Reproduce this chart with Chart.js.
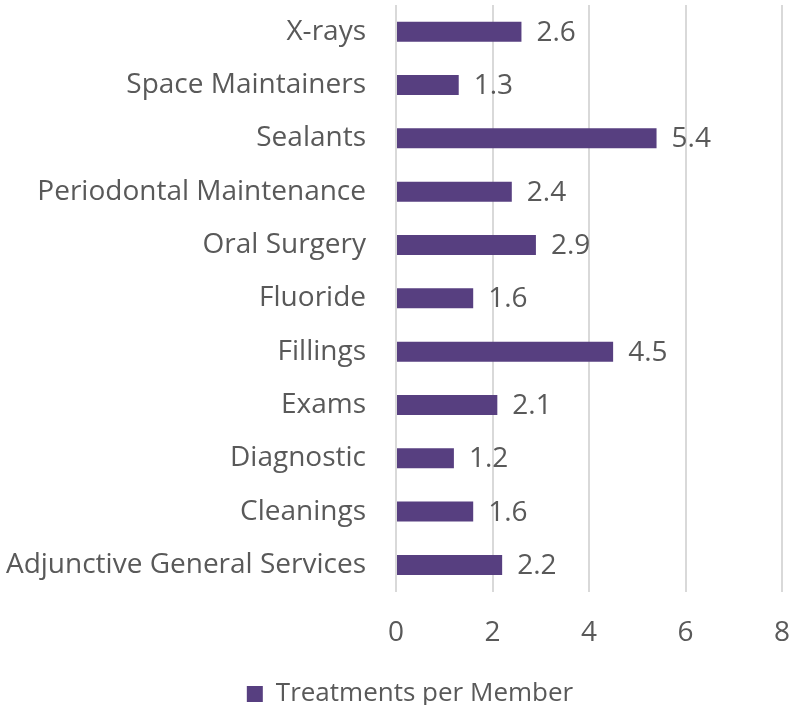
<!DOCTYPE html>
<html>
<head>
<meta charset="utf-8">
<script src="https://cdn.jsdelivr.net/npm/chart.js@4"></script>
<style>
  html, body { margin: 0; padding: 0; background: #fff; }
  #wrap { width: 792px; height: 705px; }
</style>
</head>
<body>
<div id="wrap"><canvas id="treatChart"></canvas></div>
<script>
const categories = ['X-rays', 'Space Maintainers', 'Sealants', 'Periodontal Maintenance', 'Oral Surgery',
    'Fluoride', 'Fillings', 'Exams', 'Diagnostic', 'Cleanings', 'Adjunctive General Services'];
const treatmentsPerMember = [2.6, 1.3, 5.4, 2.4, 2.9, 1.6, 4.5, 2.1, 1.2, 1.6, 2.2];
const xTicks = [0, 2, 4, 6, 8];

const textGray = '#595959';
const fontFamily = '"Open Sans", "Noto Sans", sans-serif';

// Value labels just past the end of each bar
const barValueLabels = {
    id: 'barValueLabels',
    afterDatasetsDraw(chart) {
        const ctx = chart.ctx;
        ctx.save();
        ctx.font = '28px ' + fontFamily;
        ctx.fillStyle = textGray;
        ctx.textAlign = 'left';
        ctx.textBaseline = 'middle';
        chart.getDatasetMeta(0).data.forEach((bar, i) => {
            ctx.fillText(treatmentsPerMember[i].toFixed(1), bar.x + 15, bar.y + 1);
        });
        ctx.restore();
    }
};

// nudge the legend a bit right, like the original
const legendShift = {
    id: 'legendShift',
    beforeDraw(chart) {
        chart.legend.left += 17;
        chart.legend.right += 17;
    },
    afterDraw(chart) {
        chart.legend.left -= 17;
        chart.legend.right -= 17;
    }
};

// label padding should not push the plot area inwards
function noScalePadding(scale) {
    scale.paddingTop = 0;
    scale.paddingBottom = 0;
    scale.paddingLeft = 0;
    scale.paddingRight = 0;
}

const ctx = document.getElementById('treatChart').getContext('2d');
new Chart(ctx, {
    type: 'bar',
    data: {
        labels: categories,
        datasets: [{
            label: 'Treatments per Member',
            data: treatmentsPerMember,
            backgroundColor: '#573F80',
            borderWidth: 0,
            barPercentage: 0.75,
            categoryPercentage: 0.5
        }]
    },
    options: {
        indexAxis: 'y',
        responsive: true,
        maintainAspectRatio: false,
        animation: false,
        layout: { padding: { top: 5, right: 10, left: 4, bottom: -12 } },
        plugins: {
            legend: {
                position: 'bottom',
                labels: {
                    color: textGray,
                    boxWidth: 16,
                    boxHeight: 16,
                    padding: 0,
                    font: { family: fontFamily, size: 26 }
                }
            },
            tooltip: { enabled: false }
        },
        scales: {
            x: {
                min: 0,
                max: 8,
                afterBuildTicks(scale) {
                    scale.ticks = xTicks.map(v => ({ value: v }));
                },
                afterFit(scale) {
                    scale.height = 89.4;
                    noScalePadding(scale);
                },
                grid: { color: '#D9D9D9', lineWidth: 2, drawTicks: false },
                border: { display: false },
                ticks: { color: textGray, padding: 25, font: { family: fontFamily, size: 28 } }
            },
            y: {
                afterFit(scale) {
                    scale.width = 392;
                    noScalePadding(scale);
                },
                grid: { display: false, drawTicks: false },
                border: { display: false },
                ticks: { color: textGray, padding: 30, font: { family: fontFamily, size: 28 } }
            }
        }
    },
    plugins: [barValueLabels, legendShift]
});
</script>
</body>
</html>
